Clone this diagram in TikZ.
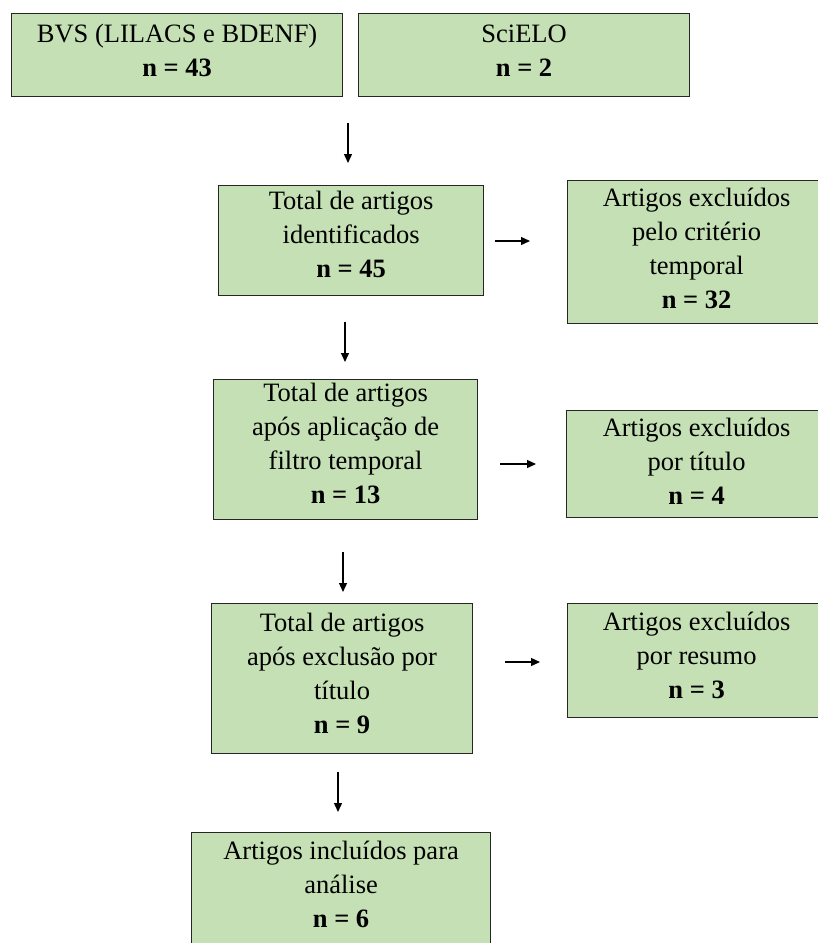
\documentclass[tikz,border=0pt]{standalone}
\usepackage{fontspec}
\setmainfont{Liberation Serif}
\usetikzlibrary{arrows.meta}
\definecolor{boxgreen}{HTML}{C5E0B4}
\newcommand{\bx}[4]{\parbox[c][#2][t]{#1}{\centering\fontsize{26.5pt}{34pt}\selectfont\rule{0pt}{#3}#4\par}}
\tikzset{
  flowbox/.style={draw=black!85, line width=1.2pt, fill=boxgreen, inner sep=0pt, anchor=north west},
  arr/.style={line width=1.3pt, -{Triangle[length=9pt,width=8pt]}}
}
\begin{document}
\begin{tikzpicture}[x=1pt,y=-1pt]
\useasboundingbox (0,0) rectangle (818,943);
\clip (0,0) rectangle (818,943);
\fill[white] (0,0) rectangle (818,943);

\node[flowbox] (bvs) at (11,13) {\bx{331pt}{83pt}{29pt}{BVS (LILACS e BDENF)\\\textbf{n = 43}}};
\node[flowbox] (scielo) at (358,13) {\bx{331pt}{83pt}{29pt}{SciELO\\\textbf{n = 2}}};

\node[flowbox] (ident) at (218,185) {\bx{265pt}{110pt}{24pt}{Total de artigos\\identificados\\\textbf{n = 45}}};
\node[flowbox] (excl1) at (567,180) {\bx{258pt}{143pt}{26pt}{Artigos excluídos\\pelo critério\\temporal\\\textbf{n = 32}}};

\node[flowbox] (filtro) at (213,379) {\bx{264pt}{140pt}{22pt}{Total de artigos\\após aplicação de\\filtro temporal\\\textbf{n = 13}}};
\node[flowbox] (excl2) at (566,410) {\bx{260pt}{107pt}{26pt}{Artigos excluídos\\por título\\\textbf{n = 4}}};

\node[flowbox] (tit) at (211,603) {\bx{261pt}{150pt}{28pt}{Total de artigos\\após exclusão por\\título\\\textbf{n = 9}}};
\node[flowbox] (excl3) at (567,603) {\bx{258pt}{114pt}{27pt}{Artigos excluídos\\por resumo\\\textbf{n = 3}}};

\node[flowbox] (incl) at (191,832) {\bx{299pt}{140pt}{27pt}{Artigos incluídos para\\análise\\\textbf{n = 6}}};

\coordinate (d1s) at (348,123); \coordinate (d1e) at (348,163);
\coordinate (d2s) at (345,322); \coordinate (d2e) at (345,362);
\coordinate (d3s) at (343,552); \coordinate (d3e) at (343,592);
\coordinate (d4s) at (338,772); \coordinate (d4e) at (338,812);
\coordinate (r1s) at (495,241); \coordinate (r1e) at (530,241);
\coordinate (r2s) at (500,464); \coordinate (r2e) at (536,464);
\coordinate (r3s) at (505,662); \coordinate (r3e) at (540,662);

\draw[arr] (d1s) -- (d1e);
\draw[arr] (d2s) -- (d2e);
\draw[arr] (d3s) -- (d3e);
\draw[arr] (d4s) -- (d4e);
\draw[arr] (r1s) -- (r1e);
\draw[arr] (r2s) -- (r2e);
\draw[arr] (r3s) -- (r3e);
\end{tikzpicture}
\end{document}
